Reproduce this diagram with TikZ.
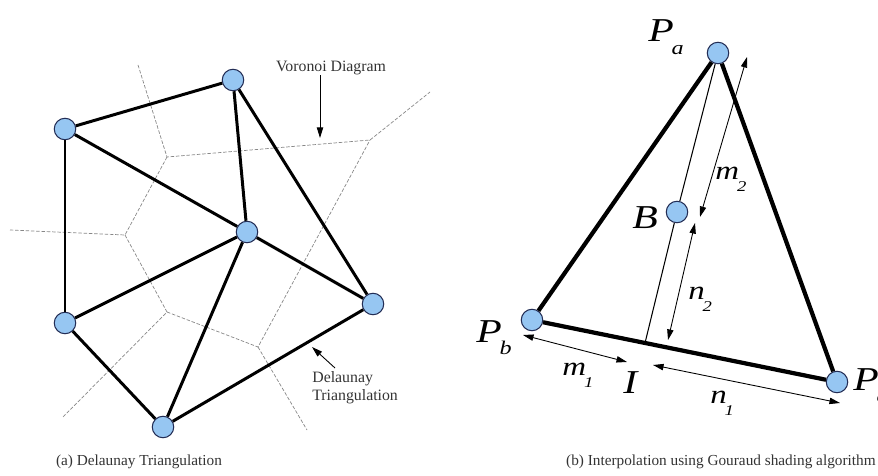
\documentclass[tikz,border=0pt]{standalone}
\usepackage{fontspec}
\setmainfont{Liberation Serif}
\usetikzlibrary{arrows.meta}

\definecolor{siteblue}{RGB}{150,198,242}
\definecolor{siteedge}{RGB}{35,45,85}
\definecolor{vorogray}{RGB}{135,135,135}

% label with a dropped subscript
\newcommand{\sublbl}[3][11]{#2\kern-1pt\raisebox{-7pt}{\fontsize{#1}{#1}\selectfont #3}}

\begin{document}
\begin{tikzpicture}[
  x=0.02cm, y=-0.02cm,
  font=\fontsize{9}{10}\selectfont,
  site/.style      = {circle, draw=siteedge, line width=0.6pt, fill=siteblue,
                      minimum size=0.43cm, inner sep=0pt},
  delaunay/.style  = {line width=1.7pt},
  voronoi/.style   = {vorogray, line width=0.4pt, dash pattern=on 2pt off 1pt},
  note/.style      = {inner sep=0pt, text=black!80},
  caption/.style   = {note, font=\fontsize{8.7}{10}\selectfont},
  edge/.style      = {line width=2.4pt},
  ray/.style       = {line width=0.6pt},
  measure/.style   = {{Triangle[length=6pt,width=3.6pt]}-{Triangle[length=6pt,width=3.6pt]},
                      line width=0.5pt},
  pointer/.style   = {-{Triangle[length=6pt,width=3.6pt]}, line width=0.5pt},
  symb/.style      = {font=\fontsize{19}{20}\selectfont\itshape, inner sep=0pt,
                      anchor=base west, xscale=1.25, transform shape},
  small symb/.style= {symb, font=\fontsize{15}{16}\selectfont\itshape},
]
\useasboundingbox (0,0) rectangle (878,476);
\clip (0,0) rectangle (878,476);

% =============================================================
% (a) Voronoi diagram (dashed)
% =============================================================
\coordinate (V1) at (167,157);
\coordinate (V2) at (370,140);
\coordinate (V3) at (125,235);
\coordinate (V4) at (167,312);
\coordinate (V5) at (258,347);

\draw[voronoi] (138,65) -- (V1) -- (V2) -- (430,92);
\draw[voronoi] (V1) -- (V3) -- (10,230);
\draw[voronoi] (V3) -- (V4) -- (63,417);
\draw[voronoi] (V4) -- (V5) -- (V2);
\draw[voronoi] (V5) -- (307,430);

% =============================================================
% (a) Delaunay triangulation
% =============================================================
\node[site] (S1) at (233,80)  {};
\node[site] (S2) at (65,129)  {};
\node[site] (S3) at (247,232) {};
\node[site] (S4) at (373,304) {};
\node[site] (S5) at (65,323)  {};
\node[site] (S6) at (163,427) {};

\draw[delaunay] (S2) -- (S1);
\draw[delaunay] (S2) -- (S5);
\draw[delaunay] (S2) -- (S3);
\draw[delaunay] (S1) -- (S3);
\draw[delaunay] (S1) -- (S4);
\draw[delaunay] (S3) -- (S4);
\draw[delaunay] (S3) -- (S5);
\draw[delaunay] (S3) -- (S6);
\draw[delaunay] (S5) -- (S6);
\draw[delaunay] (S6) -- (S4);

% callouts
\node[note] (vd) at (331,68) {Voronoi Diagram};
\coordinate (vtip) at (320,138);
\draw[pointer] (vd.south -| vtip) -- (vtip);

\node[note, anchor=west, align=left] (dt) at (312,388) {Delaunay\\Triangulation};
\coordinate (dtail) at (335,368);
\coordinate (dtip)  at (312,347);
\draw[pointer] (dtail) -- (dtip);

% =============================================================
% (b) Gouraud interpolation triangle
% =============================================================
\node[site] (Pa) at (718,53)  {};
\node[site] (B)  at (677,212) {};
\node[site] (Pb) at (532,320) {};
\node[site] (Pc) at (837,382) {};
\coordinate (I) at (645,343);

\draw[edge] (Pa) -- (Pb);
\draw[edge] (Pb) -- (Pc);
\draw[edge] (Pc) -- (Pa);
\draw[ray]  (Pa) -- (B) -- (I);

% distance arrows
\coordinate (m2a) at (747,57);  \coordinate (m2b) at (700,217);
\coordinate (n2a) at (695,223); \coordinate (n2b) at (668,340);
\coordinate (m1a) at (523,335); \coordinate (m1b) at (627,362);
\coordinate (n1a) at (653,365); \coordinate (n1b) at (840,403);
\draw[measure] (m2a) -- (m2b);
\draw[measure] (n2a) -- (n2b);
\draw[measure] (m1a) -- (m1b);
\draw[measure] (n1a) -- (n1b);

% symbols
\node[symb] (lPa) at (648,42)  {\sublbl{P}{a}};
\node[symb] (lPb) at (476,342) {\sublbl{P}{b}};
\node[symb] (lPc) at (853,390) {\sublbl{P}{c}};
\node[symb] (lB)  at (632,228) {B};
\node[symb] (lI)  at (623,393) {I};
\node[small symb] (lm2) at (715,179) {\sublbl[8.5]{m}{2}};
\node[small symb] (ln2) at (688,299) {\sublbl[8.5]{n}{2}};
\node[small symb] (lm1) at (562,375) {\sublbl[8.5]{m}{1}};
\node[small symb] (ln1) at (710,403) {\sublbl[8.5]{n}{1}};

% =============================================================
% Captions
% =============================================================
\node[caption] (capa) at (139,462) {(a) Delaunay Triangulation};
\node[caption, anchor=east] (capb) at (876,462) {(b) Interpolation using Gouraud shading algorithm};

\end{tikzpicture}
\end{document}
